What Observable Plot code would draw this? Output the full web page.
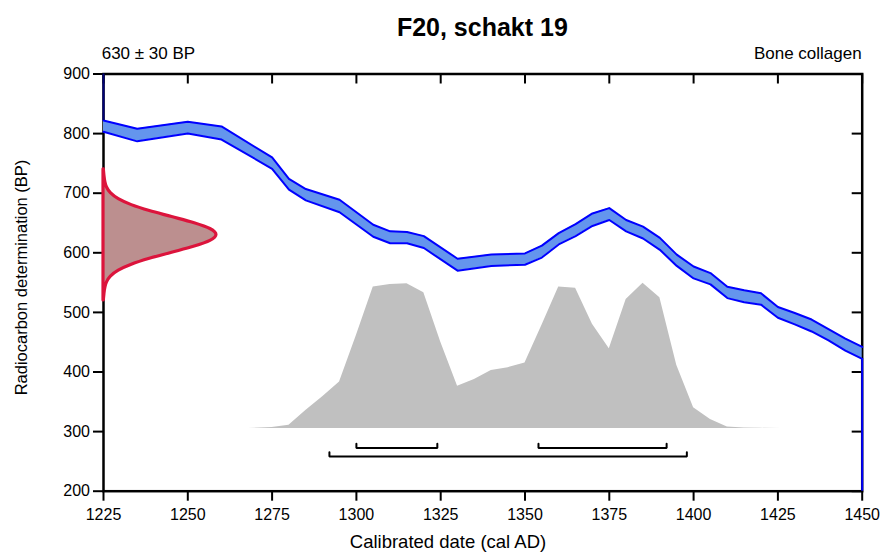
<!DOCTYPE html>
<html><head><meta charset="utf-8">
<script src="https://cdn.jsdelivr.net/npm/d3@7"></script>
<script src="https://cdn.jsdelivr.net/npm/@observablehq/plot@0.6"></script>
<style>body{margin:0;background:#fff;} #chart{width:883px;height:552px;}</style>
</head><body><div id="chart"></div>
<script>
// ---------- text ----------
const titleText = "F20, schakt 19";
const sampleLabel = "630 ± 30 BP";
const materialLabel = "Bone collagen";
const xLabel = "Calibrated date (cal AD)";
const yLabel = "Radiocarbon determination (BP)";

// ---------- ticks ----------
const xTicks = [1225, 1250, 1275, 1300, 1325, 1350, 1375, 1400, 1425, 1450];
const yTicks = [200, 300, 400, 500, 600, 700, 800, 900];

// ---------- calibration curve (upper / lower envelope, BP) ----------
const calYears = [1225, 1235, 1250, 1260, 1275, 1280, 1285, 1295, 1305, 1310, 1315, 1320, 1330, 1340, 1350, 1355, 1360, 1365, 1370, 1375, 1380, 1385, 1390, 1395, 1400, 1405, 1410, 1415, 1420, 1425, 1430, 1435, 1440, 1445, 1450];
const calUpper = [822, 808, 820, 812, 760, 724, 707, 689, 647, 636, 635, 628, 590, 597, 599, 612, 633, 648, 666, 675, 655, 644, 625, 597, 577, 566, 543, 537, 532, 509, 499, 488, 472, 456, 442];
const calLower = [803, 787, 800, 790, 741, 706, 688, 668, 627, 616, 616, 608, 570, 578, 580, 592, 614, 628, 645, 655, 636, 624, 605, 578, 557, 547, 524, 517, 513, 491, 480, 468, 453, 436, 422];

// ---------- radiocarbon measurement distribution (relative density by BP) ----------
const measBP = [520, 530, 540, 550, 560, 570, 580, 590, 600, 610, 620, 630, 640, 650, 660, 670, 680, 690, 700, 710, 720, 730, 740];
const measDensity = [0.003, 0.008, 0.015, 0.03, 0.065, 0.135, 0.25, 0.41, 0.607, 0.80, 0.946, 1.0, 0.946, 0.80, 0.607, 0.41, 0.25, 0.135, 0.065, 0.03, 0.015, 0.008, 0.003];

// ---------- calibrated probability (relative) ----------
const postYears = [1268, 1275, 1280, 1285, 1290, 1295, 1300, 1305, 1310, 1315, 1320, 1325, 1330, 1335, 1340, 1345, 1350, 1355, 1360, 1365, 1370, 1375, 1380, 1385, 1390, 1395, 1400, 1405, 1410, 1415, 1420, 1426];
const postProb = [0, 0.008, 0.023, 0.125, 0.22, 0.32, 0.64, 0.973, 0.991, 0.996, 0.934, 0.595, 0.291, 0.337, 0.40, 0.419, 0.451, 0.709, 0.973, 0.966, 0.718, 0.549, 0.888, 1.0, 0.90, 0.435, 0.144, 0.062, 0.011, 0.005, 0.002, 0];

// ---------- highest probability ranges ----------
const range68From = [1300, 1354];
const range68To = [1324, 1392];
const range95From = [1292];
const range95To = [1398];

// ---------- layout / style ----------
const W = 883, H = 552, mL = 103, mR = 21.3, mT = 73.5, mB = 61.3;
const frameW = W - mL - mR, frameH = H - mT - mB;
const postBase = 305, postScale = 244;     // where the calibrated distribution sits (BP units)
const measWidth = 33.5;                     // peak width of measurement curve (years)
const level68 = 272.5, level95 = 258.4, bracketTick = 7;
const blue = "#0000ff";

const x0 = xTicks[0], x1 = xTicks[xTicks.length - 1];
const y0 = yTicks[0], y1 = yTicks[yTicks.length - 1];

const cal = calYears.map((year, i) => ({year, upper: calUpper[i], lower: calLower[i]}));
const meas = measBP.map((bp, i) => ({bp, p: measDensity[i]}));
const post = postYears.map((year, i) => ({year, p: postProb[i]}));

const brackets = [];
function addBrackets(froms, tos, level, tag) {
  froms.forEach((a, k) => {
    const b = tos[k], id = tag + k;
    brackets.push({id, x: a, y: level + bracketTick}, {id, x: a, y: level}, {id, x: b, y: level}, {id, x: b, y: level + bracketTick});
  });
}
addBrackets(range68From, range68To, level68, "a");
addBrackets(range95From, range95To, level95, "b");

const chart = Plot.plot({
  width: W, height: H,
  marginLeft: mL, marginRight: mR, marginTop: mT, marginBottom: mB,
  x: {domain: [x0, x1]},
  y: {domain: [y0, y1]},
  style: {fontFamily: "'Liberation Sans', Arial, sans-serif", fontSize: "16px", background: "#fff", color: "#000", overflow: "visible"},
  marks: [
    Plot.areaY(post, {x: "year", y1: () => postBase, y2: d => postBase + d.p * postScale, fill: "#c0c0c0"}),
    Plot.line(brackets, {x: "x", y: "y", z: "id", stroke: "#000", strokeWidth: 2, strokeLinejoin: "miter"}),
    Plot.frame({stroke: "#000", strokeWidth: 2.5}),
    Plot.axisX({ticks: xTicks, tickSize: 10, tickPadding: 7, tickFormat: d => String(d), label: null, strokeWidth: 2, fill: "#000"}),
    Plot.axisY({ticks: yTicks, tickSize: 10, tickPadding: 3.5, tickFormat: d => String(d), label: null, strokeWidth: 2, fill: "#000"}),
    Plot.ruleX(xTicks, {x: d => d, insetBottom: frameH - 10, stroke: "#000", strokeWidth: 2}),
    Plot.ruleY(yTicks, {y: d => d, insetLeft: frameW - 10, stroke: "#000", strokeWidth: 2}),
    Plot.areaY(cal, {x: "year", y1: "lower", y2: "upper", fill: "#6495ed"}),
    Plot.line(cal, {x: "year", y: "upper", stroke: blue, strokeWidth: 2}),
    Plot.line(cal, {x: "year", y: "lower", stroke: blue, strokeWidth: 2}),
    Plot.ruleX([cal[0]], {x: "year", y1: "upper", y2: () => y1, stroke: "#00007a", strokeWidth: 2}),
    Plot.ruleX([cal[cal.length - 1]], {x: "year", y1: () => y0, y2: "lower", stroke: blue, strokeWidth: 2}),
    Plot.areaX(meas, {y: "bp", x1: () => x0, x2: d => x0 + d.p * measWidth, fill: "#bc8f8f", stroke: "#dc143c", strokeWidth: 3.2, curve: "monotone-y"})
  ]
});

document.getElementById("chart").appendChild(chart);
const svg = d3.select(chart);
const font = "'Liberation Sans', Arial, sans-serif";
svg.append("text").attr("x", mL + frameW / 2).attr("y", 35.7).attr("text-anchor", "middle")
  .attr("font-family", font).attr("font-weight", "bold").attr("font-size", 25).attr("fill", "#000").text(titleText);
svg.append("text").attr("x", 101.7).attr("y", 59).attr("text-anchor", "start")
  .attr("font-family", font).attr("font-size", 17).attr("fill", "#000").text(sampleLabel);
svg.append("text").attr("x", W - mR).attr("y", 59).attr("text-anchor", "end")
  .attr("font-family", font).attr("font-size", 17).attr("fill", "#000").text(materialLabel);
svg.append("text").attr("x", 448).attr("y", 548).attr("text-anchor", "middle")
  .attr("font-family", font).attr("font-size", 18.5).attr("fill", "#000").text(xLabel);
svg.append("text").attr("transform", "translate(27,277.5) rotate(-90)").attr("text-anchor", "middle")
  .attr("font-family", font).attr("font-size", 16.5).attr("fill", "#000").text(yLabel);
</script>
</body></html>
